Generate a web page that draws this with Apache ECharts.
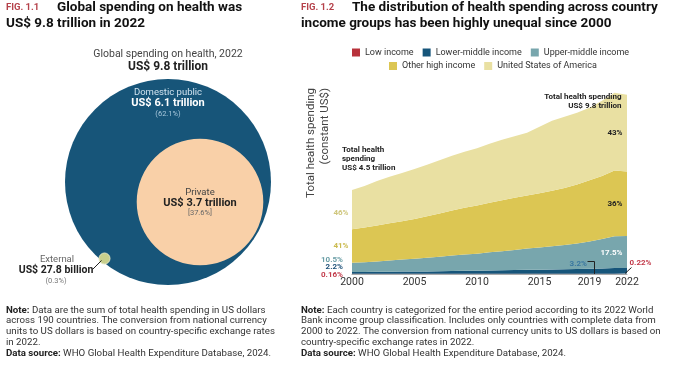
<!DOCTYPE html>
<html>
<head>
<meta charset="utf-8">
<script src="https://cdn.jsdelivr.net/npm/echarts@6/dist/echarts.min.js"></script>
<style>
html,body{margin:0;padding:0;background:#fff;}
#c{width:684px;height:372px;}
</style>
</head>
<body>
<div id="c"></div>
<script>
// ---------- Fig 1.1 data (US$ trillion) ----------
const spendingTotal = 9.8;
const spendingNames = ['Domestic public', 'Private', 'External'];
const spendingValues = [6.1, 3.7, 0.0278];
const spendingShares = ['62.1%', '37.6%', '0.3%'];

// ---------- Fig 1.2 data (US$ trillion, constant) ----------
const years = ['2000','2001','2002','2003','2004','2005','2006','2007','2008','2009','2010','2011',
  '2012','2013','2014','2015','2016','2017','2018','2019','2020','2021','2022'];
const shownYears = ['2000','2005','2010','2015','2019','2022'];
const seriesNames = ['Low income','Lower-middle income','Upper-middle income','Other high income','United States of America'];
const lowIncome = [0.007,0.007,0.008,0.008,0.009,0.009,0.010,0.010,0.011,0.011,0.012,0.012,0.013,0.013,0.014,0.014,0.015,0.016,0.017,0.018,0.019,0.020,0.021];
const lowerMiddle = [0.10,0.10,0.11,0.11,0.12,0.12,0.13,0.14,0.15,0.16,0.17,0.18,0.19,0.20,0.21,0.22,0.23,0.24,0.25,0.27,0.28,0.30,0.31];
const upperMiddle = [0.50,0.53,0.56,0.61,0.65,0.70,0.74,0.79,0.84,0.88,0.92,0.98,1.03,1.09,1.15,1.20,1.26,1.31,1.39,1.47,1.60,1.72,1.73];
const otherHigh = [1.81,1.88,1.95,2.02,2.08,2.15,2.24,2.33,2.44,2.53,2.61,2.69,2.76,2.82,2.87,2.93,3.00,3.09,3.19,3.31,3.41,3.56,3.48];
const usa = [2.13,2.25,2.41,2.51,2.61,2.71,2.79,2.88,2.96,3.03,3.09,3.19,3.27,3.33,3.40,3.61,3.79,3.85,3.88,3.93,4.07,4.21,4.16];

const FONT = 'Roboto, "Noto Sans", sans-serif';
const colors = ['#b8323b', '#16557a', '#78a6ad', '#dcc653', '#e9e0a2'];

function T(x, y, text, o) {
  o = o || {};
  const st = {
    text: text, fontFamily: FONT, fontSize: o.size || 9,
    fontWeight: o.bold ? 'bold' : 'normal', fill: o.color || '#222',
    align: o.align || 'left', verticalAlign: o.va || 'middle',
    textAlign: o.align || 'left', textVerticalAlign: o.va || 'middle'
  };
  if (o.lh) st.lineHeight = o.lh;
  if (o.rich) st.rich = o.rich;
  return { type: 'text', x: x, y: y, rotation: o.rot || 0, silent: true, z: 100, style: st };
}
function L(points, color) {
  return { type: 'polyline', silent: true, z: 100, shape: { points: points },
    style: { stroke: color || '#222', lineWidth: 1, fill: null } };
}

const R_TOTAL = 103;
function radiusFor(v) { return R_TOTAL * Math.sqrt(v / spendingTotal); }

const noteRich = (size) => ({
  b: { fontFamily: FONT, fontSize: size, fontWeight: 'bold', fill: '#222', lineHeight: 10.7 },
  n: { fontFamily: FONT, fontSize: size, fill: '#333', lineHeight: 10.7 }
});

const graphics = [
  // titles
  T(6, 7.5, 'FIG. 1.1', { size: 9.5, bold: true, color: '#b5414a' }),
  T(57, 7.5, 'Global spending on health was', { size: 13.5, bold: true, color: '#111' }),
  T(6, 23.5, 'US$ 9.8 trillion in 2022', { size: 13.5, bold: true, color: '#111' }),
  T(301, 7.5, 'FIG. 1.2', { size: 9.5, bold: true, color: '#b5414a' }),
  T(352, 7.5, 'The distribution of health spending across country', { size: 13.5, bold: true, color: '#111' }),
  T(301, 23.5, 'income groups has been highly unequal since 2000', { size: 13.5, bold: true, color: '#111' }),

  // Fig 1.1 labels
  T(168, 54.5, 'Global spending on health, 2022', { size: 10.5, color: '#444', align: 'center' }),
  T(168, 67, 'US$ ' + spendingTotal + ' trillion', { size: 12, bold: true, color: '#222', align: 'center' }),
  T(168, 93, spendingNames[0], { size: 9.5, color: '#cfe2ee', align: 'center' }),
  T(168, 103.5, 'US$ ' + spendingValues[0] + ' trillion', { size: 11, bold: true, color: '#ffffff', align: 'center' }),
  T(168, 114, '(' + spendingShares[0] + ')', { size: 7.5, color: '#a9c8dc', align: 'center' }),
  T(200, 192.5, spendingNames[1], { size: 9.5, color: '#444', align: 'center' }),
  T(200, 203.5, 'US$ ' + spendingValues[1] + ' trillion', { size: 11, bold: true, color: '#222', align: 'center' }),
  T(200, 213.5, '[' + spendingShares[1] + ']', { size: 7.5, color: '#666', align: 'center' }),
  T(57, 260, spendingNames[2], { size: 9.5, color: '#666', align: 'center' }),
  T(56, 270.5, 'US$ 27.8 billion', { size: 10.5, bold: true, color: '#222', align: 'center' }),
  T(56, 281, '(' + spendingShares[2] + ')', { size: 7.5, color: '#777', align: 'center' }),
  L([[101.5, 260.5], [92.5, 269.5]], '#222'),

  // y-axis name
  T(311.5, 88, 'Total health spending', { size: 11.5, color: '#444', align: 'right', rot: Math.PI / 2 }),
  T(325, 88, '(constant US$)', { size: 11.5, color: '#444', align: 'right', rot: Math.PI / 2 }),

  // Fig 1.2 annotations
  T(621.5, 96.5, 'Total health spending', { size: 8, bold: true, color: '#222', align: 'right' }),
  T(621.5, 106, 'US$ 9.8 trillion', { size: 8, bold: true, color: '#222', align: 'right' }),
  T(342, 149.5, 'Total health', { size: 8, bold: true, color: '#222' }),
  T(342, 158.5, 'spending', { size: 8, bold: true, color: '#222' }),
  T(342, 167.5, 'US$ 4.5 trillion', { size: 8, bold: true, color: '#222' }),
  T(622.5, 132.5, '43%', { size: 8, bold: true, color: '#222', align: 'right' }),
  T(622.5, 204, '36%', { size: 8, bold: true, color: '#222', align: 'right' }),
  T(622.5, 252.5, '17.5%', { size: 8, bold: true, color: '#ffffff', align: 'right' }),
  T(587, 263.5, '3.2%', { size: 8, bold: true, color: '#3a78a0', align: 'right' }),
  L([[587.5, 261.5], [594.5, 261.5], [594.5, 274]], '#222'),
  T(629.5, 262.5, '0.22%', { size: 8, bold: true, color: '#c23a4a' }),
  L([[625, 273.5], [631.5, 267.5]], '#222'),
  T(348.5, 212.5, '46%', { size: 8, bold: true, color: '#cfc67c', align: 'right' }),
  T(348.5, 246, '41%', { size: 8, bold: true, color: '#cbbb50', align: 'right' }),
  T(343, 259.5, '10.5%', { size: 8, bold: true, color: '#6a9ea6', align: 'right' }),
  T(343, 267.3, '2.2%', { size: 8, bold: true, color: '#1d5078', align: 'right' }),
  T(343, 275, '0.16%', { size: 8, bold: true, color: '#c23a4a', align: 'right' }),

  // notes
  T(6, 305, '{b|Note:}{n| Data are the sum of total health spending in US dollars}\n' +
    '{n|across 190 countries. The conversion from national currency}\n' +
    '{n|units to US dollars is based on country-specific exchange rates}\n' +
    '{n|in 2022.}\n' +
    '{b|Data source:}{n| WHO Global Health Expenditure Database, 2024.}',
    { size: 9.7, va: 'top', lh: 10.7, rich: noteRich(9.7) }),
  T(301, 305, '{b|Note:}{n| Each country is categorized for the entire period according to its 2022 World}\n' +
    '{n|Bank income group classification. Includes only countries with complete data from}\n' +
    '{n|2000 to 2022. The conversion from national currency units to US dollars is based on}\n' +
    '{n|country-specific exchange rates in 2022.}\n' +
    '{b|Data source:}{n| WHO Global Health Expenditure Database, 2024.}',
    { size: 9.7, va: 'top', lh: 10.7, rich: noteRich(9.7) })
];

const areaData = [lowIncome, lowerMiddle, upperMiddle, otherHigh, usa];
const areaSeries = seriesNames.map((name, i) => ({
  name: name, type: 'line', stack: 'total', data: areaData[i],
  symbol: 'none', showSymbol: false, silent: true, color: colors[i],
  itemStyle: { color: colors[i] },
  lineStyle: { width: 0, color: colors[i] },
  areaStyle: { color: colors[i], opacity: 1 },
  emphasis: { disabled: true }
}));

function circle(center, value, color, border) {
  return {
    type: 'pie', center: center, radius: [0, radiusFor(value)], silent: true,
    label: { show: false }, labelLine: { show: false }, emphasis: { disabled: true },
    data: [{ value: value, name: 'c' + value }],
    itemStyle: Object.assign({ color: color }, border || {})
  };
}

const option = {
  animation: false,
  backgroundColor: '#ffffff',
  textStyle: { fontFamily: FONT },
  legend: [
    { data: seriesNames.slice(0, 3), left: 352, top: 48, icon: 'rect', itemWidth: 8, itemHeight: 8,
      itemGap: 9, padding: 0, selectedMode: false, textStyle: { fontSize: 9, color: '#333', fontFamily: FONT } },
    { data: seriesNames.slice(3), left: 389, top: 61.5, icon: 'rect', itemWidth: 8, itemHeight: 8,
      itemGap: 9, padding: 0, selectedMode: false, textStyle: { fontSize: 9, color: '#333', fontFamily: FONT } }
  ],
  grid: { left: 352, right: 57, top: 80, bottom: 98, containLabel: false },
  xAxis: {
    type: 'category', data: years, boundaryGap: false,
    axisLine: { lineStyle: { color: '#aaaaaa', width: 1 } },
    axisTick: { show: false },
    axisLabel: { interval: (idx, val) => shownYears.indexOf(val) >= 0, margin: 3,
      fontSize: 10.5, color: '#333', fontFamily: FONT }
  },
  yAxis: { type: 'value', min: 0, max: 10.5, show: false, splitLine: { show: false } },
  series: areaSeries.concat([
    circle([168, 182], spendingTotal, '#175579'),
    circle([200, 202], spendingValues[1], '#f9d0a8'),
    circle([104.5, 258.5], spendingValues[2], '#c8cf8c', { borderColor: '#e3e6c0', borderWidth: 1 })
  ]),
  graphic: graphics
};

const chart = echarts.init(document.getElementById('c'), null, { renderer: 'canvas' });
chart.setOption(option);
</script>
</body>
</html>
